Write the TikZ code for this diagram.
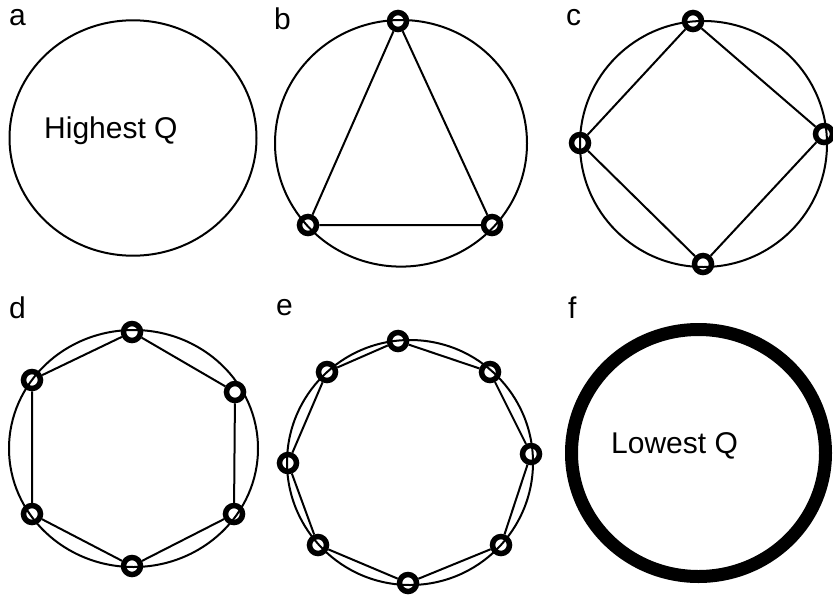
\documentclass[tikz,border=0pt]{standalone}
\usepackage{fontspec}
\setmainfont{Liberation Sans}
\begin{document}
\begin{tikzpicture}[x=1pt,y=-1pt,
  rim/.style={line width=2pt},
  thickrim/.style={line width=13pt},
  ring/.style={circle,draw,line width=5.5pt,minimum size=17pt,inner sep=0pt},
  edge/.style={line width=2pt},
  lbl/.style={anchor=base west,inner sep=0pt,font=\fontsize{30}{30}\selectfont},
  qtxt/.style={anchor=base west,inner sep=0pt,font=\fontsize{30}{30}\selectfont}]
\useasboundingbox (0,0) rectangle (833,600);
% panel labels
\node[lbl] (la) at (9,25) {a};
\node[lbl] (lb) at (274,29) {b};
\node[lbl] (lc) at (566,25) {c};
\node[lbl] (ld) at (9,318) {d};
\node[lbl] (le) at (276,315) {e};
\node[lbl] (lf) at (568,318) {f};
% a
\draw[rim] (133,138) ellipse [x radius=123.5pt, y radius=117.7pt];
\node[qtxt] (hq) at (44,138) {Highest Q};
% b
\draw[rim] (401,143.3) ellipse [x radius=126pt, y radius=123.3pt];
\node[ring] (b1) at (398,21) {};
\node[ring] (b2) at (492,225) {};
\node[ring] (b3) at (308,225) {};
\draw[edge] (b1) -- (b2) -- (b3) -- (b1);
% c
\draw[rim] (703.5,144) ellipse [x radius=123.5pt, y radius=123pt];
\node[ring] (c1) at (693,21) {};
\node[ring] (c2) at (824,134) {};
\node[ring] (c3) at (703,264) {};
\node[ring] (c4) at (580,143) {};
\draw[edge] (c1) -- (c2) -- (c3) -- (c4) -- (c1);
% d
\draw[rim] (133.5,448.5) ellipse [x radius=124.5pt, y radius=118.5pt];
\node[ring] (d1) at (132,332) {};
\node[ring] (d2) at (235,392) {};
\node[ring] (d3) at (234,514) {};
\node[ring] (d4) at (132,566) {};
\node[ring] (d5) at (32,514) {};
\node[ring] (d6) at (32,380) {};
\draw[edge] (d1) -- (d2) -- (d3) -- (d4) -- (d5) -- (d6) -- (d1);
% e
\draw[rim] (410,462.5) ellipse [x radius=123pt, y radius=122.5pt];
\node[ring] (e1) at (398,341) {};
\node[ring] (e2) at (490,372) {};
\node[ring] (e3) at (531,454) {};
\node[ring] (e4) at (501,545) {};
\node[ring] (e5) at (408,583) {};
\node[ring] (e6) at (318,545) {};
\node[ring] (e7) at (288,463) {};
\node[ring] (e8) at (327,372) {};
\draw[edge] (e1) -- (e2) -- (e3) -- (e4) -- (e5) -- (e6) -- (e7) -- (e8) -- (e1);
% f
\draw[thickrim] (698.5,453) ellipse [x radius=127pt, y radius=123.5pt];
\node[qtxt] (lq) at (611,453) {Lowest Q};
\end{tikzpicture}
\end{document}
